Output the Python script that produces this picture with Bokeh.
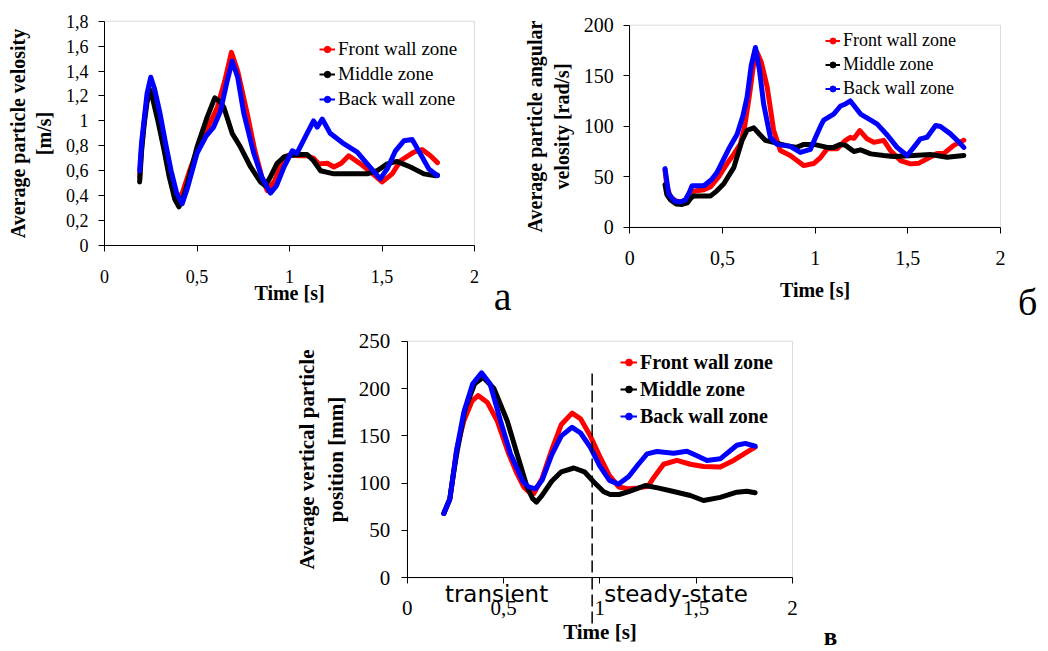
from bokeh.plotting import figure
from bokeh.models import (Range1d, FixedTicker, Legend, LegendItem, Label, Arrow,
                          CustomJSTickFormatter, Spacer, BoxAnnotation)
from bokeh.layouts import column, row
from bokeh.embed import file_html
from bokeh.resources import INLINE

SERIF = "Liberation Serif"
SERIES = ["Front wall zone", "Middle zone", "Back wall zone"]
COLORS = ["#ff0000", "#000000", "#0000ff"]
X_TICKS = [0, 0.5, 1, 1.5, 2]

# ---------------- panel a : average particle velocity [m/s] ----------------
a_y_ticks = [0, 0.2, 0.4, 0.6, 0.8, 1.0, 1.2, 1.4, 1.6, 1.8]
a_t_front = [0.19, 0.2, 0.215, 0.23, 0.245, 0.26, 0.29, 0.32, 0.35, 0.38, 0.396, 0.42, 0.46,
             0.52, 0.57, 0.61, 0.65, 0.686, 0.72, 0.771, 0.81, 0.85, 0.88, 0.92, 0.97, 1.005,
             1.05, 1.095, 1.13, 1.158, 1.204, 1.24, 1.28, 1.32, 1.384, 1.438, 1.5, 1.555,
             1.6, 1.672, 1.717, 1.762, 1.8]
a_v_front = [0.55, 0.78, 1.0, 1.18, 1.25, 1.2, 1.02, 0.8, 0.58, 0.42, 0.375, 0.42, 0.6,
             0.84, 0.98, 1.11, 1.32, 1.55, 1.4, 1.06, 0.78, 0.55, 0.44, 0.52, 0.71, 0.73,
             0.72, 0.72, 0.7, 0.655, 0.66, 0.63, 0.66, 0.72, 0.655, 0.59, 0.51, 0.575,
             0.68, 0.75, 0.77, 0.72, 0.665]
a_t_mid = [0.19, 0.2, 0.215, 0.23, 0.245, 0.26, 0.29, 0.32, 0.35, 0.38, 0.402, 0.43, 0.47,
           0.5, 0.555, 0.596, 0.62, 0.645, 0.69, 0.735, 0.79, 0.843, 0.87, 0.9, 0.933, 0.97,
           1.0, 1.05, 1.095, 1.13, 1.168, 1.24, 1.32, 1.42, 1.474, 1.528, 1.58, 1.654,
           1.726, 1.79, 1.8]
a_v_mid = [0.51, 0.75, 0.98, 1.15, 1.245, 1.18, 0.99, 0.78, 0.55, 0.37, 0.31, 0.4, 0.62,
           0.79, 1.03, 1.185, 1.16, 1.11, 0.9, 0.79, 0.63, 0.51, 0.48, 0.56, 0.66, 0.71,
           0.72, 0.73, 0.73, 0.68, 0.6, 0.575, 0.575, 0.575, 0.6, 0.655, 0.675, 0.63,
           0.575, 0.56, 0.565]
a_t_back = [0.19, 0.2, 0.215, 0.23, 0.25, 0.27, 0.3, 0.33, 0.36, 0.39, 0.42, 0.45, 0.5,
            0.55, 0.59, 0.627, 0.66, 0.69, 0.72, 0.753, 0.807, 0.85, 0.897, 0.93, 0.97,
            1.015, 1.04, 1.095, 1.13, 1.15, 1.177, 1.22, 1.295, 1.366, 1.42, 1.49, 1.528,
            1.573, 1.618, 1.663, 1.708, 1.753, 1.8]
a_v_back = [0.6, 0.82, 1.02, 1.22, 1.35, 1.26, 1.06, 0.82, 0.6, 0.42, 0.335, 0.47, 0.74,
            0.88, 0.95, 1.08, 1.3, 1.48, 1.35, 1.06, 0.74, 0.55, 0.42, 0.48, 0.63, 0.76,
            0.74, 0.9, 1.0, 0.95, 1.015, 0.9, 0.815, 0.75, 0.655, 0.535, 0.615, 0.76,
            0.84, 0.85, 0.735, 0.615, 0.56]

# ---------------- panel б : average particle angular velocity [rad/s] ----------------
b_y_ticks = [0, 50, 100, 150, 200]
b_t_front = [0.19, 0.2, 0.22, 0.25, 0.28, 0.3, 0.327, 0.36, 0.4, 0.436, 0.48, 0.525, 0.56,
             0.597, 0.62, 0.645, 0.667, 0.687, 0.71, 0.741, 0.776, 0.812, 0.866, 0.938,
             0.992, 1.029, 1.065, 1.119, 1.164, 1.19, 1.21, 1.241, 1.28, 1.317, 1.37, 1.406,
             1.46, 1.514, 1.56, 1.604, 1.658, 1.694, 1.748, 1.802]
b_v_front = [57, 40, 30, 26, 25, 27, 35, 36, 37, 40, 50, 63, 72, 82.5, 100, 130, 160, 173,
             163, 139, 96, 76, 71, 61, 63, 69, 77.6, 77.6, 86, 89, 88, 95.7, 87.5, 84, 86,
             76, 66, 62.7, 63.4, 67.7, 73, 73, 81, 86]
b_t_mid = [0.19, 0.2, 0.22, 0.25, 0.282, 0.31, 0.33, 0.345, 0.4, 0.436, 0.47, 0.507, 0.561,
           0.606, 0.633, 0.669, 0.7, 0.731, 0.776, 0.84, 0.9, 0.939, 0.993, 1.065, 1.1,
           1.137, 1.164, 1.209, 1.245, 1.3, 1.37, 1.424, 1.532, 1.622, 1.712, 1.802]
b_v_mid = [42, 32, 27, 23, 22.5, 24, 29, 31, 31, 31, 36, 43, 59, 86, 96, 98.4, 92, 86, 84,
           81, 79, 82, 82, 79, 79, 82, 81, 75, 76.6, 72.6, 71, 70, 71, 72, 69.3, 71]
b_t_back = [0.19, 0.196, 0.21, 0.24, 0.273, 0.3, 0.32, 0.336, 0.4, 0.44, 0.47, 0.534, 0.579,
            0.61, 0.633, 0.655, 0.678, 0.7, 0.722, 0.758, 0.794, 0.866, 0.92, 0.974, 1.0,
            1.029, 1.046, 1.1, 1.137, 1.164, 1.19, 1.245, 1.3, 1.335, 1.39, 1.442, 1.496,
            1.532, 1.568, 1.604, 1.65, 1.676, 1.73, 1.766, 1.802]
b_v_back = [58, 50, 33, 26, 25, 27, 34, 41, 41, 47, 54, 77.6, 92, 110, 129, 160, 178, 155,
            122, 89, 82, 80, 74, 77, 88, 100, 106, 112, 120, 122, 125, 112, 106, 102, 91,
            79, 71, 79, 87.5, 89, 100.7, 99.7, 92.4, 86, 79]

# ---------------- panel в : average vertical particle position [mm] ----------------
c_y_ticks = [0, 50, 100, 150, 200, 250]
c_t_front = [0.19, 0.2, 0.221, 0.24, 0.256, 0.294, 0.337, 0.368, 0.415, 0.467, 0.527, 0.57,
             0.605, 0.63, 0.657, 0.7, 0.75, 0.8, 0.856, 0.9, 0.95, 1.0, 1.05, 1.098, 1.15,
             1.2, 1.25, 1.28, 1.331, 1.4, 1.47, 1.538, 1.625, 1.694, 1.763, 1.806]
c_v_front = [68, 73, 83, 110, 134.5, 166, 187, 192.6, 185.6, 166, 131, 110, 96, 91, 89,
             105, 135, 162, 174, 168, 150, 128, 108, 96, 94, 95, 96.6, 106, 120, 124, 120,
             117.6, 117, 124, 132.7, 138]
c_t_mid = [0.19, 0.2, 0.221, 0.24, 0.26, 0.3, 0.35, 0.394, 0.45, 0.519, 0.57, 0.622, 0.65,
           0.671, 0.7, 0.75, 0.8, 0.865, 0.92, 0.97, 1.02, 1.054, 1.1, 1.15, 1.236, 1.3,
           1.366, 1.47, 1.538, 1.625, 1.711, 1.763, 1.806]
c_v_mid = [68, 73, 83, 110, 134.5, 178, 205, 212, 200, 166, 131, 96, 84, 80, 87, 102, 112,
           116, 112, 101, 91, 88, 88, 91, 97.5, 95, 92, 87, 81.7, 85, 90.5, 91.5, 89.8]
c_t_back = [0.19, 0.2, 0.221, 0.24, 0.256, 0.294, 0.34, 0.386, 0.43, 0.484, 0.536, 0.6,
            0.63, 0.666, 0.7, 0.75, 0.8, 0.856, 0.9, 0.95, 1.0, 1.05, 1.098, 1.15, 1.2,
            1.245, 1.296, 1.383, 1.452, 1.504, 1.556, 1.625, 1.711, 1.755, 1.806]
c_v_back = [68, 73, 83, 110, 134.5, 175, 205, 216.6, 205, 166, 131, 102, 96, 94, 103, 130,
            150, 159, 153, 138, 118, 103, 99, 107, 120, 131, 133.5, 131.7, 133.8, 129, 124,
            125.7, 140, 142, 139]

PHASE_SPLIT = 0.96
PHASE_LABELS = ["transient", "steady-state"]

COMMA = CustomJSTickFormatter(code="return String(tick).replace('.', ',');")


def panel(cfg, series):
    p = figure(width=cfg["w"], height=cfg["h"], x_range=Range1d(*cfg["xr"]),
               y_range=Range1d(*cfg["yr"]), output_backend="svg",
               toolbar_location=None, min_border=0)
    p.background_fill_color = "white"
    p.border_fill_color = "white"
    p.outline_line_color = None
    p.grid.visible = False
    p.add_layout(BoxAnnotation(left=0, right=2, bottom=0, top=cfg["ymax"], fill_color=None,
                               fill_alpha=0, line_color="#8c8c8c", line_width=1,
                               level="underlay"))
    for ax in (p.xaxis[0], p.yaxis[0]):
        ax.fixed_location = 0
        ax.axis_line_color = "black"
        ax.major_tick_line_color = "black"
        ax.major_tick_out = 6
        ax.major_tick_in = 0
        ax.minor_tick_line_color = None
        ax.major_label_text_font = SERIF
        ax.major_label_text_font_size = cfg["tick_fs"]
        ax.major_label_text_color = "black"
        ax.axis_label_text_font = SERIF
        ax.axis_label_text_font_style = "bold"
        ax.axis_label_text_color = "black"
        ax.formatter = COMMA
    p.xaxis.bounds = (0, 2)
    p.yaxis.bounds = (0, cfg["ymax"])
    p.xaxis.ticker = FixedTicker(ticks=X_TICKS)
    p.yaxis.ticker = FixedTicker(ticks=cfg["yticks"])
    p.xaxis.axis_label = "Time [s]"
    p.xaxis.axis_label_text_font_size = cfg["title_fs"]
    p.yaxis.axis_label = cfg["ytitle"]
    p.yaxis.axis_label_text_font_size = cfg["title_fs"]
    p.xaxis.major_label_standoff = cfg["xls"]
    p.yaxis.major_label_standoff = cfg["yls"]
    p.xaxis.axis_label_standoff = cfg["xts"]
    p.yaxis.axis_label_standoff = cfg["yts"]

    for (t, v), color in zip(series, COLORS):
        p.line(t, v, line_color=color, line_width=5, line_join="round", line_cap="round")

    # legend-only renderers, placed outside the visible ranges
    off_x = [cfg["xr"][0] - 10, cfg["xr"][0] - 9]
    off_y = [cfg["yr"][0] - 1000, cfg["yr"][0] - 1000]
    items = []
    for name, color in zip(SERIES, COLORS):
        lr = p.line(x=off_x, y=off_y, line_color=color, line_width=2)
        sr = p.scatter(x=off_x[:1], y=off_y[:1], size=5, fill_color=color, line_color=color)
        items.append(LegendItem(label=name, renderers=[lr, sr]))
    leg = Legend(items=items, location=cfg["loc"], orientation="vertical",
                 background_fill_alpha=0, border_line_color=None,
                 label_text_font=SERIF, label_text_font_size=cfg["leg_fs"],
                 label_text_font_style=cfg["leg_style"], label_text_color="black",
                 glyph_width=cfg["gw"], glyph_height=cfg["gh"], label_height=cfg["gh"],
                 label_standoff=3, spacing=3, padding=0, margin=0)
    p.add_layout(leg)
    p.add_layout(Label(x=cfg["tag_x"], y=cfg["tag_y"], text=cfg["tag"], text_font=SERIF,
                       text_font_size=cfg["tag_fs"], text_font_style=cfg["tag_style"],
                       text_align="center", text_baseline="alphabetic", text_color="black"))
    return p


cfg_a = dict(w=512, h=326, xr=(-0.5622, 2.2054), yr=(-0.6500, 1.9661), ymax=1.8,
             yticks=a_y_ticks, tick_fs="18px", title_fs="20px",
             ytitle="Average particle velosity\n[m/s]", xls=18, yls=10, xts=-4, yts=8,
             loc=(319, 216), leg_fs="19px", leg_style="normal", gw=16, gh=22,
             tag="a", tag_x=2.1514, tag_y=-0.409, tag_fs="40px", tag_style="normal")
cfg_b = dict(w=534, h=326, xr=(-0.6329, 2.2482), yr=(-98.32, 224.455), ymax=200,
             yticks=b_y_ticks, tick_fs="20px", title_fs="20px",
             ytitle="Average particle angular\nvelosity [rad/s]", xls=18, yls=10, xts=10,
             yts=8, loc=(313, 227), leg_fs="18px", leg_style="normal", gw=15, gh=21,
             tag="б", tag_x=2.146, tag_y=-73.6, tag_fs="38px", tag_style="normal")
cfg_c = dict(w=600, h=324, xr=(-0.6577, 2.4568), yr=(-76.82, 265.53), ymax=250,
             yticks=c_y_ticks, tick_fs="21px", title_fs="21px",
             ytitle="Average vertical particle\nposition [mm]", xls=17, yls=11, xts=2,
             yts=8, loc=(340, 222), leg_fs="20px", leg_style="bold", gw=17, gh=24,
             tag="в", tag_x=2.1973, tag_y=-61.5, tag_fs="25px", tag_style="bold")

fig_a = panel(cfg_a, [(a_t_front, a_v_front), (a_t_mid, a_v_mid), (a_t_back, a_v_back)])
fig_b = panel(cfg_b, [(b_t_front, b_v_front), (b_t_mid, b_v_mid), (b_t_back, b_v_back)])
fig_c = panel(cfg_c, [(c_t_front, c_v_front), (c_t_mid, c_v_mid), (c_t_back, c_v_back)])

fig_c.add_layout(Arrow(end=None, x_start=PHASE_SPLIT, y_start=216, x_end=PHASE_SPLIT,
                       y_end=-50, line_color="black", line_width=1.5, line_dash="12 5"))
for txt, xc in zip(PHASE_LABELS, [0.4636, 1.3953]):
    fig_c.add_layout(Label(x=xc, y=-16.6, text=txt, text_font="DejaVu Sans",
                           text_font_size="23px", text_align="center",
                           text_baseline="alphabetic", text_color="black"))

layout = column(row(fig_a, fig_b), row(Spacer(width=280, height=324), fig_c))

with open("out.html", "w") as f:
    f.write(file_html(layout, INLINE))
